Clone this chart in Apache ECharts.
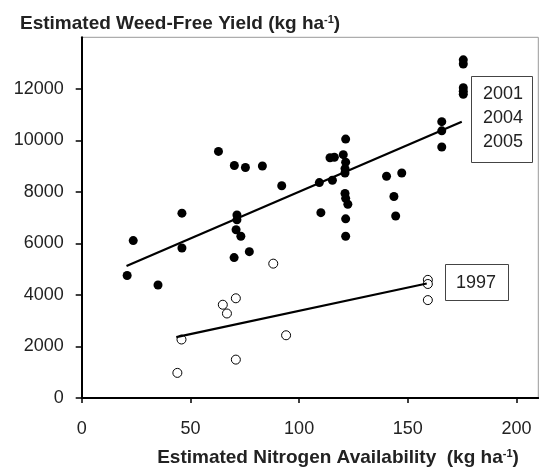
<!DOCTYPE html>
<html>
<head>
<meta charset="utf-8">
<script src="https://cdn.jsdelivr.net/npm/echarts@6/dist/echarts.min.js"></script>
<style>
  html, body { margin: 0; padding: 0; background: #fff; }
  #chart { width: 539px; height: 472px; }
</style>
</head>
<body>
<div id="chart"></div>
<script>
// filled points: 2001, 2004, 2005  [N availability, yield]
const yearsLate = [
  [20.9, 4755], [23.7, 6110], [35.1, 4385], [46.1, 7175], [46.1, 5820],
  [62.9, 9570], [70.2, 9025], [75.3, 8945], [83.1, 9005], [92.0, 8240],
  [71.4, 7105], [71.4, 6915], [71.0, 6530], [73.2, 6280], [70.1, 5450],
  [77.1, 5680], [121.4, 10050], [114.2, 9325], [116.2, 9345], [120.3, 9445],
  [121.4, 9155], [121.1, 8905], [121.1, 8735], [115.3, 8450], [109.3, 8360],
  [140.2, 8605], [147.2, 8735], [121.1, 7940], [121.4, 7750], [122.4, 7520],
  [110.0, 7195], [143.6, 7820], [144.4, 7065], [121.4, 6955], [121.4, 6280],
  [175.5, 13125], [175.5, 12965], [175.5, 12040], [175.5, 11910], [175.5, 11790],
  [165.6, 10725], [165.6, 10370], [165.6, 9740]
];
// open points: 1997
const year1997 = [
  [44.0, 975], [45.9, 2270], [64.9, 3620], [66.8, 3280], [70.9, 3870],
  [70.9, 1490], [94.0, 2435], [88.1, 5215], [159.2, 4585], [159.2, 4425],
  [159.2, 3800]
];
// fitted lines, end points
const fitLate = [[20.6, 5125], [174.8, 10720]];
const fit1997 = [[43.5, 2365], [158.7, 4445]];

const xTicks = [0, 50, 100, 150, 200];
const yTicks = [0, 2000, 4000, 6000, 8000, 10000, 12000];
const boxLate = ['2001', '2004', '2005'];
const box1997 = ['1997'];

const font = 'Liberation Sans, Arial, sans-serif';
const ink = '#222';

const chart = echarts.init(document.getElementById('chart'));
chart.setOption({
  animation: false,
  title: {
    left: 15,
    top: 9,
    text: '{a|Estimated Weed-Free Yield (kg ha}{s|-1}{a|)}',
    textStyle: {
      rich: {
        a: { fontFamily: font, fontSize: 19, fontWeight: 'bold', color: ink },
        s: { fontFamily: font, fontSize: 11, fontWeight: 'bold', color: ink, verticalAlign: 'top' }
      }
    }
  },
  grid: {
    left: 81.7, right: 0.7, top: 37.3, bottom: 70.3,
    show: true, borderColor: '#999', borderWidth: 1
  },
  xAxis: {
    type: 'value', min: 0, max: 210, interval: 50,
    splitLine: { show: false },
    axisLine: { lineStyle: { color: '#000', width: 2 } },
    axisTick: { customValues: xTicks, length: 5, lineStyle: { color: '#000', width: 1.5 } },
    axisLabel: { customValues: xTicks, margin: 22, fontFamily: font, fontSize: 18, color: ink,
      formatter: v => String(v) },
    name: '{a|Estimated Nitrogen Availability  (kg ha}{s|-1}{a|)}',
    nameLocation: 'middle',
    nameGap: 50,
    nameTextStyle: {
      padding: [0, 0, 0, 56],
      rich: {
        a: { fontFamily: font, fontSize: 19, fontWeight: 'bold', color: ink },
        s: { fontFamily: font, fontSize: 11, fontWeight: 'bold', color: ink, verticalAlign: 'top' }
      }
    }
  },
  yAxis: {
    type: 'value', min: 0, max: 14000, interval: 2000,
    splitLine: { show: false },
    axisLine: { show: true, lineStyle: { color: '#000', width: 2 } },
    axisTick: { show: true, customValues: yTicks, length: 6, lineStyle: { color: '#000', width: 1.5 } },
    axisLabel: { customValues: yTicks, margin: 18, fontFamily: font, fontSize: 18, color: ink,
      formatter: v => String(v) }
  },
  graphic: [
    { type: 'rect', shape: { x: 471.5, y: 76.5, width: 61, height: 86 },
      style: { fill: '#fff', stroke: '#444', lineWidth: 1 }, z: 100 },
    { type: 'text', z: 101,
      style: { text: boxLate.join('\n'), x: 503, y: 118, align: 'center', verticalAlign: 'middle',
        font: '18px ' + font, lineHeight: 24, fill: ink } },
    { type: 'rect', shape: { x: 445.5, y: 264.5, width: 63, height: 36 },
      style: { fill: '#fff', stroke: '#444', lineWidth: 1 }, z: 100 },
    { type: 'text', z: 101,
      style: { text: box1997.join('\n'), x: 476, y: 283, align: 'center', verticalAlign: 'middle',
        font: '18px ' + font, fill: ink } }
  ],
  series: [
    {
      type: 'scatter', data: yearsLate, symbolSize: 9,
      itemStyle: { color: '#000', opacity: 1 }
    },
    {
      type: 'scatter', data: year1997, symbolSize: 9,
      itemStyle: { color: '#fff', borderColor: '#000', borderWidth: 1, opacity: 1 }
    },
    {
      type: 'line', data: fitLate, symbol: 'none',
      lineStyle: { color: '#000', width: 2.2 }
    },
    {
      type: 'line', data: fit1997, symbol: 'none',
      lineStyle: { color: '#000', width: 2.2 }
    }
  ]
});
</script>
</body>
</html>
